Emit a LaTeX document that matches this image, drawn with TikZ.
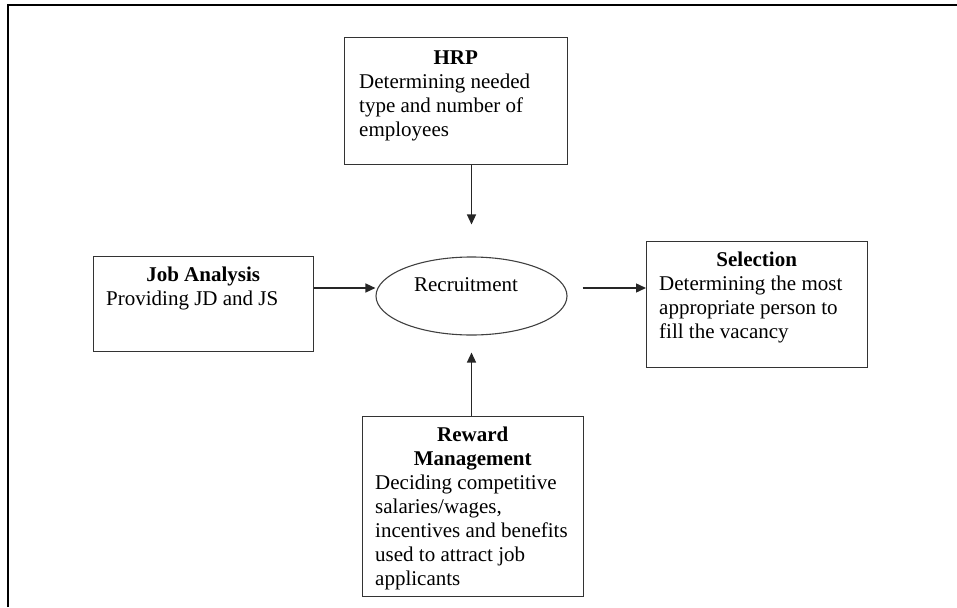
\documentclass[tikz,border=0pt]{standalone}
\usepackage{fontspec}
\setmainfont{Liberation Serif}
\usetikzlibrary{arrows.meta,shapes.geometric}
\begin{document}
\begin{tikzpicture}[x=1pt,y=-1pt,
  box/.style={draw=black!80, line width=1.2pt, rectangle, anchor=north west, inner sep=0pt},
  txt/.style={anchor=north west, inner sep=0pt, align=left, font=\fontsize{21}{24}\selectfont, text=black},
  arr/.style={draw=black!85, line width=1.4pt, -{Triangle[length=10pt,width=9pt]}},
  outerframe/.style={line width=2pt, black}]
\useasboundingbox (0,0) rectangle (957,607);
% outer frame (top and left edges)
\coordinate (fbl) at (8,607);
\coordinate (ftl) at (8,5);
\coordinate (ftr) at (957,5);
\draw[outerframe] (fbl) -- (ftl) -- (ftr);

% boxes
\node[box, minimum width=223pt, minimum height=127pt] (hrp) at (344,37) {};
\node[box, minimum width=220pt, minimum height=95pt] (ja) at (93,256) {};
\node[box, minimum width=221pt, minimum height=126pt] (sel) at (646,241) {};
\node[box, minimum width=221pt, minimum height=180pt] (rw) at (362,416) {};
\node[ellipse, draw=black!75, line width=1.1pt, minimum width=191pt, minimum height=78pt, inner sep=0pt] (rec) at (471.5,296) {};

% texts
\node[txt] (hrpT) at (359,47.2) {\makebox[193pt][c]{\strut\textbf{HRP}}\\Determining needed\\type and number of\\employees};
\node[txt] (jaT) at (106,264.7) {\makebox[194pt][c]{\strut\textbf{Job Analysis}}\\Providing JD and JS};
\node[txt] (selT) at (659,249.2) {\makebox[195pt][c]{\strut\textbf{Selection}}\\Determining the most\\appropriate person to\\fill the vacancy};
\node[txt] (rwT) at (375,424.9) {\makebox[195pt][c]{\strut\textbf{Reward}}\\\makebox[195pt][c]{\textbf{Management}}\\Deciding competitive\\salaries/wages,\\incentives and benefits\\used to attract job\\applicants};
\node[anchor=base, inner sep=0pt, font=\fontsize{21}{24}\selectfont, text=black] (recT) at (466,291.7) {Recruitment};

% connectors
\coordinate (ay) at (0,288);
\draw[arr, shorten >=32pt] (hrp.south -| rec.center) -- (rec.north);
\draw[arr] (ja.east |- ay) -- (rec.west |- ay);
\draw[arr, shorten <=15pt] (rec.east |- ay) -- (sel.west |- ay);
\draw[arr, shorten >=17pt] (rw.north -| rec.center) -- (rec.south);
\end{tikzpicture}
\end{document}
